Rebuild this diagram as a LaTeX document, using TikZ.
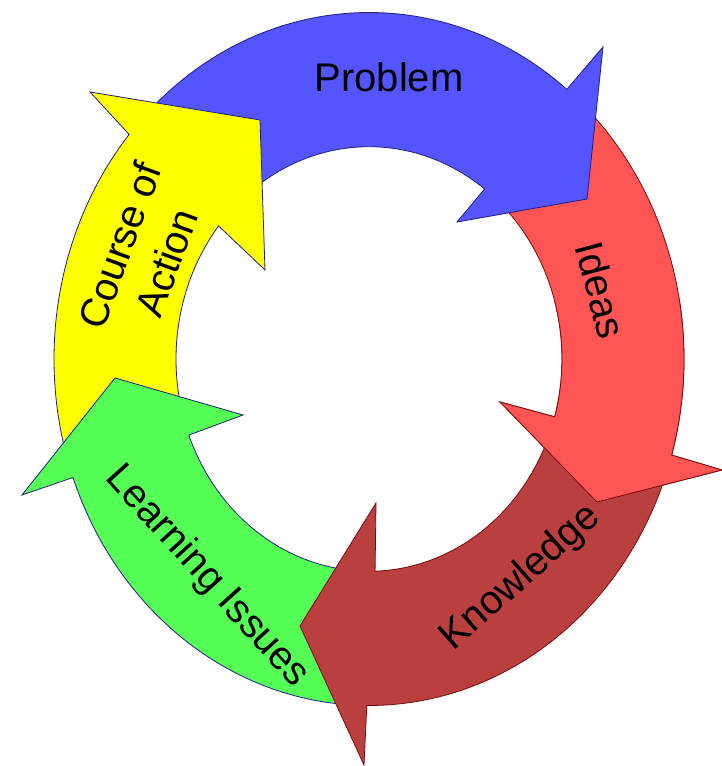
\documentclass[tikz,border=0pt]{standalone}
\usepackage{fontspec}
\setmainfont{Liberation Sans}
\usetikzlibrary{calc}
\definecolor{cBlue}{RGB}{85,85,255}
\definecolor{cYellow}{RGB}{255,255,0}
\definecolor{cRed}{RGB}{255,85,85}
\definecolor{cDark}{RGB}{186,64,64}
\definecolor{cGreen}{RGB}{85,255,85}
\definecolor{navyline}{RGB}{30,30,130}
\definecolor{maroonline}{RGB}{120,10,10}
\newcommand\redshape{($(C)+(48:315 and 346.5)$) arc[start angle=48,end angle=-16.1,x radius=315,y radius=346.5] -- (722,296) -- (597,264) -- (500,364) -- ($(C)+(-15.8:193 and 212.3)$) arc[start angle=-15.8,end angle=48,x radius=193,y radius=212.3] -- cycle}
\begin{document}
\begin{tikzpicture}[x=1pt,y=1pt,
  arrb/.style={line width=0.8pt, line join=miter, draw=navyline},
  arrr/.style={line width=0.8pt, line join=miter, draw=maroonline},
  lbl/.style={inner sep=0pt, font=\fontsize{40}{50}\selectfont, text=black}]
\useasboundingbox (0,0) rectangle (722,766);
\coordinate (C) at (369,407);
% red (Ideas)
\path[arrr, fill=cRed] \redshape;
% blue (Problem)
\path[arrb, fill=cBlue] ($(C)+(135:315 and 346.5)$) arc[start angle=135,end angle=51.1,x radius=315,y radius=346.5] -- (603,719) -- (587,567) -- (457,544) -- ($(C)+(53.2:193 and 212.3)$) arc[start angle=53.2,end angle=135,x radius=193,y radius=212.3] -- cycle;
% yellow (Course of Action)
\path[arrb, fill=cYellow] ($(C)+(197:315 and 346.5)$) arc[start angle=197,end angle=139.6,x radius=315,y radius=346.5] -- (90,674) -- (260,646) -- (265,496) -- ($(C)+(141.2:193 and 212.3)$) arc[start angle=141.2,end angle=197,x radius=193,y radius=212.3] -- cycle;
% green (Learning Issues)
\path[arrb, fill=cGreen] ($(C)+(-94:315 and 346.5)$) arc[start angle=-94,end angle=-160,x radius=315,y radius=346.5] -- (22,271) -- (115,388) -- (243,351) -- ($(C)+(-159:193 and 212.3)$) arc[start angle=-159,end angle=-94,x radius=193,y radius=212.3] -- cycle;
% dark red (Knowledge)
\path[arrr, fill=cDark] ($(C)+(-19:315 and 346.5)$) arc[start angle=-19,end angle=-90.4,x radius=315,y radius=346.5] -- (364,1) -- (300,140) -- (376,263) -- ($(C)+(-88.2:193 and 212.3)$) arc[start angle=-88.2,end angle=-19,x radius=193,y radius=212.3] -- cycle;
% red head on top of dark red
\begin{scope}
\clip (0,0) rectangle (722,466);
\path[arrr, fill=cRed] \redshape;
\end{scope}
% labels
\node[lbl] (problem) at (389,689) {Problem};
\node[lbl, rotate=-75] (ideas) at (601,476) {Ideas};
\node[lbl, rotate=41.5] (knowledge) at (521,188) {Knowledge};
\node[lbl, rotate=-48] (learning) at (207,189) {Learning Issues};
\node[lbl, rotate=70, align=center] (course) at (143,512) {Course of\\Action};
\end{tikzpicture}
\end{document}
